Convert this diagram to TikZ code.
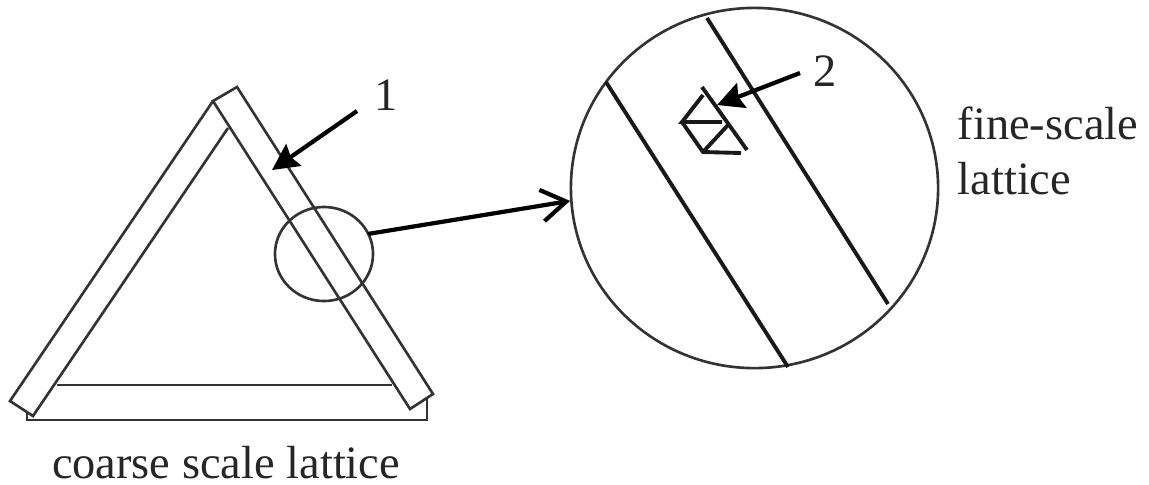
\documentclass[tikz,border=0pt]{standalone}
\usepackage{fontspec}
\setmainfont{Liberation Serif}
\usetikzlibrary{arrows.meta,shapes.geometric}
\tikzset{
  latline/.style={line width=0.75pt, draw=black!80},
  fineline/.style={line width=1.1pt, black!90},
  lab/.style={font=\fontsize{13.2pt}{15.5pt}\selectfont, inner sep=0pt, text=black!85},
  solidarrow/.style={line width=1.2pt, -{Stealth[length=7.5pt,width=7.5pt,inset=1pt]}},
  openarrow/.style={line width=1.2pt, line cap=round, -{Straight Barb[length=7pt,width=9pt]}}
}
\begin{document}
\begin{tikzpicture}[x=0.01cm, y=-0.01cm]
  \useasboundingbox (0,0) rectangle (1149,484);
  \draw[latline] (213,101) -- (237,87) -- (433,394) -- (410,409) -- cycle;
  \draw[latline] (213,101) -- (10,401) -- (33,416) -- (228,128);
  \draw[latline] (57,385) -- (392,385);
  \draw[latline] (27,412) -- (27,420) -- (427,420) -- (427,398);
  \node[ellipse, draw, latline, minimum width=0.98cm, minimum height=0.94cm, inner sep=0pt] (zoomsmall) at (324,254) {};
  \node[ellipse, draw, latline, minimum width=3.67cm, minimum height=3.6cm, inner sep=0pt] (zoombig) at (754.5,188) {};
  \draw[fineline] (606,82) -- (788,367);
  \draw[fineline] (707,18) -- (888,304);
  \draw[fineline] (702,87) -- (747,150);
  \draw[fineline] (703,95) -- (682,122) -- (722,122);
  \draw[fineline] (682,122) -- (703,152) -- (741,153);
  \draw[fineline] (703,152) -- (728,125);
  \node[lab, anchor=base] (one) at (386,110) {1};
  \node[lab, anchor=base] (two) at (825,86) {2};
  \node[lab, anchor=base west] (finelab) at (957,139) {fine-scale};
  \node[lab, anchor=base west] (latticelab) at (957,194) {lattice};
  \node[lab, anchor=base] (coarselab) at (226,478) {coarse scale lattice};
  \coordinate (onestart) at (357,111);
  \coordinate (oneend) at (272,170);
  \coordinate (twostart) at (800,73);
  \coordinate (twoend) at (717,105);
  \draw[solidarrow] (onestart) -- (oneend);
  \draw[solidarrow] (twostart) -- (twoend);
  \draw[openarrow] (zoomsmall.24) -- (zoombig.184);
\end{tikzpicture}
\end{document}
